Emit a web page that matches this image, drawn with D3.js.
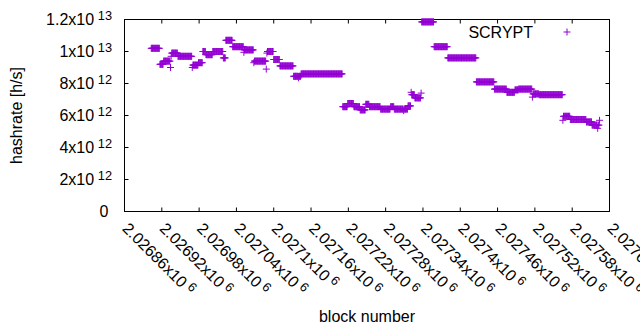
<!DOCTYPE html>
<html><head><meta charset="utf-8">
<script src="https://cdn.jsdelivr.net/npm/d3@7"></script>
<style>
body{margin:0;background:#fff}
svg{display:block}
text{font-family:"Liberation Sans",Arial,sans-serif;fill:#000}
</style>
</head><body>
<svg id="chart" width="640" height="330"></svg>
<script>
// ---------- data ----------
const seriesName = "SCRYPT";
const xTickValues = [2026860,2026920,2026980,2027040,2027100,2027160,2027220,2027280,2027340,2027400,2027460,2027520,2027580,2027640];
const xTickMantissa = ["2.02686","2.02692","2.02698","2.02704","2.0271","2.02716","2.02722","2.02728","2.02734","2.0274","2.02746","2.02752","2.02758","2.02764"];
const xTickExponent = "6";
const yTickValues = [0,2e12,4e12,6e12,8e12,1e13,1.2e13];
const yTickMantissa = ["0","2","4","6","8","1","1.2"];
const yTickExponent = ["","12","12","12","12","13","13"];
// first block number of each run of consecutive blocks
const runStart = [2026903,2026917,2026923,2026934,2026946,2026969,2026970,2026979,2026986,2026991,
  2027002,2027019,2027023,2027034,2027052,2027053,2027068,2027069,2027088,2027090,
  2027100,2027110,2027132,2027144,2027211,2027219,2027229,2027239,2027248,2027254,
  2027272,2027288,2027294,2027316,2027321,2027322,2027327,2027337,2027338,2027358,
  2027380,2027426,2027455,2027475,2027488,2027494,2027516,2027517,2027527,2027565,
  2027566,2027577,2027603,2027612,2027621];
// hashrate of each block in the run, in units of 1e11 h/s
const runValues = [
  [102,102,102,102,102,102,102,102,102,102,102,102,102,102],
  [92,92,92,92,92,92],
  [94,94,94,94,94,94,94,94,94,94,94],
  [90,97,99,99,99,99,99,99,99,99,99,99],
  [97,97,97,97,97,97,97,97,97,97,97,97,97,97,97,97,97,97,97,97,97,97,97],
  [90],
  [91.5,91.5,91.5,91.5,91.5,91.5,91.5,91.5,91.5],
  [93,93,93,93,93,93,93],
  [100,100,100,100,100],
  [98,98,98,98,98,98,98,98,98,98,98],
  [100,100,100,100,100,100,100,100,100,100,100,100,100,100,100,100,100],
  [96,96,96,96],
  [107,107,107,107,107,107,107,107,107,107,107],
  [103,103,103,103,103,103,103,103,103,103,103,103,103,103,103,103,103,103],
  [99.5],
  [101,101,101,101,101,101,101,101,101,101,101,101,101,101,101],
  [93],
  [94,94,94,94,94,94,94,94,94,94,94,94,94,94,94,94,94,94,94],
  [89,99],
  [100,100,100,100,100,100,100,100,100,100],
  [95,95,95,95,95,95,95,95,95,95],
  [91,91,91,91,91,91,91,91,91,91,91,91,91,91,91,91,91,91,91,91,91,91],
  [84.5,84.5,84.5,84.5,84.5,84.5,84.5,84.5,83.5,84.5,84.5,84.5],
  [86,86,86,86,86,86,86,86,86,86,86,86,86,86,86,86,86,86,86,86,86,86,86,86,86,86,86,86,86,86,86,86,86,86,86,86,86,86,86,86,86,86,86,86,86,86,86,86,86,86,86,86,86,86,86,86,86,86,86,86,86,86,86,86,86,86,86],
  [65.5,65.5,65.5,65.5,65.5,65.5,65.5,65.5],
  [67.5,67.5,67.5,67.5,67.5,67.5,67.5,67.5,67.5,67.5],
  [65.5,65.5,65.5,65.5,65.5,65.5,65.5,65.5,65.5,65.5],
  [63.5,63.5,63.5,63.5,63.5,63.5,63.5,63.5,63.5],
  [67,67,67,67,67,67],
  [65.5,65.5,65.5,65.5,65.5,65.5,65.5,65.5,65.5,65.5,65.5,65.5,65.5,65.5,65.5,65.5,65.5,65.5],
  [64,64,64,64,64,64,64,64,64,64,64,64,64,64,64,64],
  [65.5,65.5,65.5,65.5,65.5,65.5],
  [64,64,64,64,64,64,64,64,64,64,64,64,64,64,64,63,64,64,64,64,64,64],
  [66,66,66,66,66],
  [74.5],
  [73,73,73,73,73],
  [71,71,71,71,71,71,71,71,71,71],
  [74],
  [118.5,118.5,118.5,118.5,118.5,118.5,118.5,118.5,118.5,118.5,118.5,118.5,118.5,118.5,118.5,118.5,118.5,118.5,118.5,118.5],
  [103,103,103,103,103,103,103,103,103,103,103,103,103,103,103,103,103,103,103,103,103,103],
  [96,96,96,96,96,96,96,96,96,96,96,96,96,96,96,96,96,96,96,96,96,96,96,96,96,96,96,96,96,96,96,96,96,96,96,96,96,96,96,96,96,96,96,96,96,96],
  [81,81,81,81,81,81,81,81,81,81,81,81,81,81,81,81,81,81,81,81,81,81,81,81,81,81,81,81,81],
  [76.5,76.5,76.5,76.5,76.5,76.5,76.5,76.5,76.5,76.5,76.5,76.5,76.5,76.5,76.5,76.5,76.5,76.5,76.5,76.5],
  [74.5,74.5,74.5,74.5,74.5,74.5,74.5,74.5,74.5,74.5,74.5,74.5,74.5],
  [76,76,76,76,76,76],
  [76.5,76.5,76.5,76.5,76.5,76.5,76.5,76.5,76.5,76.5,76.5,76.5,76.5,76.5,76.5,76.5,76.5,76.5,76.5,76.5,76.5,76.5],
  [71.5],
  [73.5,73.5,73.5,73.5,73.5,73.5,73.5,73.5,73.5,73.5],
  [73,73,73,73,73,73,73,73,73,73,73,73,73,73,73,73,73,73,73,73,73,73,73,73,73,73,73,73,73,73,73,73,73,73,73,73,73,73],
  [57],
  [59.5,59.5,59.5,59.5,59.5,59.5,59.5,59.5,59.5,59.5,59.5],
  [57.5,57.5,57.5,57.5,57.5,57.5,57.5,57.5,57.5,57.5,57.5,57.5,57.5,57.5,57.5,57.5,57.5,57.5,57.5,57.5,57.5,57.5,57.5,57.5,57.5,57.5],
  [56,56,56,56,56,56,56,56,56],
  [54,54,54,54,54,54,54,54,54],
  [52,54,54,57]
];

// ---------- chart ----------
const L = 124.5, R = 609.5, T = 19.5, B = 211.5;
const svg = d3.select("#chart");
const x = d3.scaleLinear().domain([xTickValues[0], xTickValues[xTickValues.length-1]]).range([L, R]);
const y = d3.scaleLinear().domain([0, 1.2e13]).range([B, T]);
const color = "#9400d3";
const plus = "M-3.5,0H3.5M0,-3.5V3.5";

const points = [];
runStart.forEach((s, r) => runValues[r].forEach((v, j) => points.push({block: s + j, value: v * 1e11})));

function styleAxis(g){
  g.select(".domain").remove();
  g.selectAll(".tick line").attr("stroke", "#000").attr("stroke-width", 1);
}
svg.append("g").attr("transform", `translate(0,${B})`)
  .call(d3.axisBottom(x).tickValues(xTickValues).tickSize(-4).tickFormat("").offset(0)).call(styleAxis);
svg.append("g").attr("transform", `translate(0,${T})`)
  .call(d3.axisTop(x).tickValues(xTickValues).tickSize(-4).tickFormat("").offset(0)).call(styleAxis);
svg.append("g").attr("transform", `translate(${L},0)`)
  .call(d3.axisLeft(y).tickValues(yTickValues).tickSize(-4).tickFormat("").offset(0)).call(styleAxis);
svg.append("g").attr("transform", `translate(${R},0)`)
  .call(d3.axisRight(y).tickValues(yTickValues).tickSize(-4).tickFormat("").offset(0)).call(styleAxis);

svg.append("rect").attr("x", L).attr("y", T).attr("width", R - L).attr("height", B - T)
  .attr("fill", "none").attr("stroke", "#000").attr("stroke-width", 1);

// y tick labels
yTickValues.forEach((v, i) => {
  const t = svg.append("text").attr("text-anchor", "end").attr("font-size", 16)
    .attr("x", yTickExponent[i] ? 112 : 108.5).attr("y", y(v) + 5.5);
  t.append("tspan").text(yTickExponent[i] ? yTickMantissa[i] + "x10" : yTickMantissa[i]);
  if (yTickExponent[i]) t.append("tspan").attr("font-size", 12.8).attr("dx", 3.6).attr("dy", -5).text(yTickExponent[i]);
});

// x tick labels (rotated)
xTickValues.forEach((v, i) => {
  const t = svg.append("text").attr("font-size", 16)
    .attr("transform", `translate(${x(v) - 3},${B + 18}) rotate(45)`);
  t.append("tspan").text(xTickMantissa[i] + "x10");
  t.append("tspan").attr("font-size", 12.8).attr("dx", 3.6).attr("dy", -5).text(xTickExponent);
});

// axis titles
svg.append("text").attr("font-size", 16).attr("text-anchor", "middle")
  .attr("transform", `translate(22,${(T + B) / 2}) rotate(-90)`).text("hashrate [h/s]");
svg.append("text").attr("font-size", 16).attr("text-anchor", "middle")
  .attr("x", (L + R) / 2).attr("y", 322).text("block number");

// points
svg.append("g").selectAll("path").data(points).join("path")
  .attr("d", plus).attr("transform", d => `translate(${x(d.block)},${y(d.value)})`)
  .attr("stroke", color).attr("stroke-width", 1).attr("fill", "none");

// legend
svg.append("text").attr("font-size", 16).attr("text-anchor", "end").attr("x", 533).attr("y", 37.5).text(seriesName);
svg.append("path").attr("d", plus).attr("transform", "translate(567,32)")
  .attr("stroke", color).attr("stroke-width", 1).attr("fill", "none");
</script>
</body></html>
